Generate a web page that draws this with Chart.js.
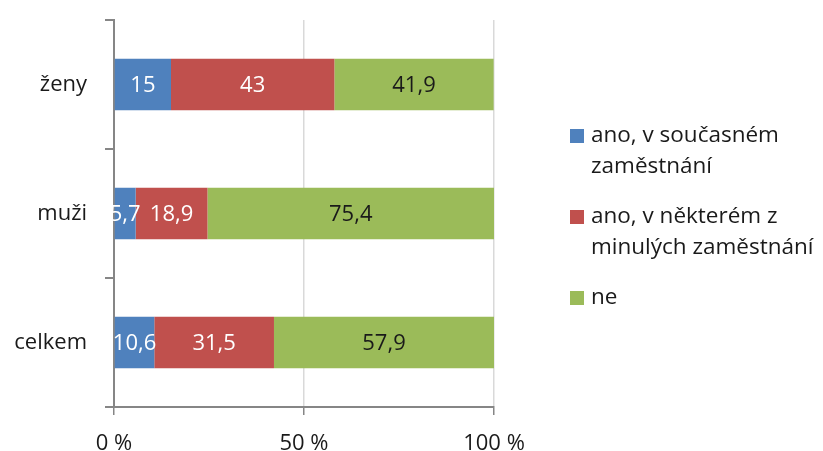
<!DOCTYPE html>
<html>
<head>
<meta charset="utf-8">
<script src="https://cdn.jsdelivr.net/npm/chart.js@4/dist/chart.umd.min.js"></script>
<style>
  html, body { margin: 0; padding: 0; background: #fff; }
  #wrap { width: 823px; height: 451px; }
</style>
</head>
<body>
<div id="wrap"><canvas id="graf" width="823" height="451"></canvas></div>
<script>
// data
var skupiny = ['ženy', 'muži', 'celkem'];
var soucasne = [15, 5.7, 10.6];
var minule = [43, 18.9, 31.5];
var ne = [41.9, 75.4, 57.9];
var osaX = [0, 50, 100];
var legendaText = [
  ['ano, v současném', 'zaměstnání'],
  ['ano, v některém z', 'minulých zaměstnání'],
  ['ne']
];

var barvy = ['#4F81BD', '#C0504D', '#9BBB59'];
var pismo = "'Open Sans', sans-serif";

// popisky v pruzich
var popisky = {
  id: 'popisky',
  afterDatasetsDraw: function(chart) {
    var ctx = chart.ctx;
    ctx.save();
    ctx.font = '22px ' + pismo;
    ctx.textAlign = 'center';
    ctx.textBaseline = 'middle';
    chart.data.datasets.forEach(function(ds, i) {
      var meta = chart.getDatasetMeta(i);
      meta.data.forEach(function(bar, j) {
        var stred = (bar.x + bar.base) / 2;
        ctx.fillStyle = i == 2 ? '#1a1a1a' : '#ffffff';
        ctx.fillText(String(ds.data[j]).replace('.', ','), stred, bar.y + 1);
      });
    });
    ctx.restore();
  }
};

// legenda vpravo, text na dva radky
var legenda = {
  id: 'legenda',
  afterDraw: function(chart) {
    var ctx = chart.ctx;
    ctx.save();
    ctx.font = '22.5px ' + pismo;
    ctx.textBaseline = 'middle';
    ctx.textAlign = 'left';
    var y = 136;
    legendaText.forEach(function(radky, i) {
      ctx.fillStyle = barvy[i];
      ctx.fillRect(570, y - 7, 14, 14);
      ctx.fillStyle = '#1a1a1a';
      radky.forEach(function(r, k) {
        ctx.fillText(r, 591, y + k * 31);
      });
      y += radky.length * 31 + 19;
    });
    ctx.restore();
  }
};

var ctx = document.getElementById('graf').getContext('2d');
var graf = new Chart(ctx, {
  type: 'bar',
  data: {
    labels: skupiny,
    datasets: [
      { label: legendaText[0].join(' '), data: soucasne, backgroundColor: barvy[0] },
      { label: legendaText[1].join(' '), data: minule, backgroundColor: barvy[1] },
      { label: legendaText[2].join(' '), data: ne, backgroundColor: barvy[2] }
    ]
  },
  options: {
    indexAxis: 'y',
    responsive: false,
    animation: false,
    devicePixelRatio: 1,
    layout: { padding: { top: 20, right: 329, left: 0, bottom: 0 } },
    datasets: {
      bar: { categoryPercentage: 1, barPercentage: 0.4, borderWidth: 0 }
    },
    plugins: {
      legend: { display: false },
      tooltip: { enabled: false }
    },
    scales: {
      x: {
        stacked: true,
        min: 0,
        max: 100,
        afterBuildTicks: function(s) { s.ticks = osaX.map(function(v) { return { value: v }; }); },
        afterFit: function(s) { s.height = 44; s.paddingLeft = 0; s.paddingRight = 0; },
        grid: { color: '#d9d9d9', tickColor: '#868686', tickLength: 8, lineWidth: 1.5 },
        border: { color: '#868686', width: 2 },
        ticks: {
          padding: 16,
          color: '#1a1a1a',
          font: { family: pismo, size: 22 },
          callback: function(v) { return v + ' %'; }
        }
      },
      y: {
        stacked: true,
        offset: true,
        afterFit: function(s) { s.width = 114; s.paddingTop = 0; s.paddingBottom = 0; },
        grid: { offset: true, drawOnChartArea: false, color: '#868686', tickLength: 9, lineWidth: 2 },
        border: { color: '#868686', width: 2 },
        ticks: {
          padding: 18,
          color: '#1a1a1a',
          font: { family: pismo, size: 22 }
        }
      }
    }
  },
  plugins: [popisky, legenda]
});
</script>
</body>
</html>
